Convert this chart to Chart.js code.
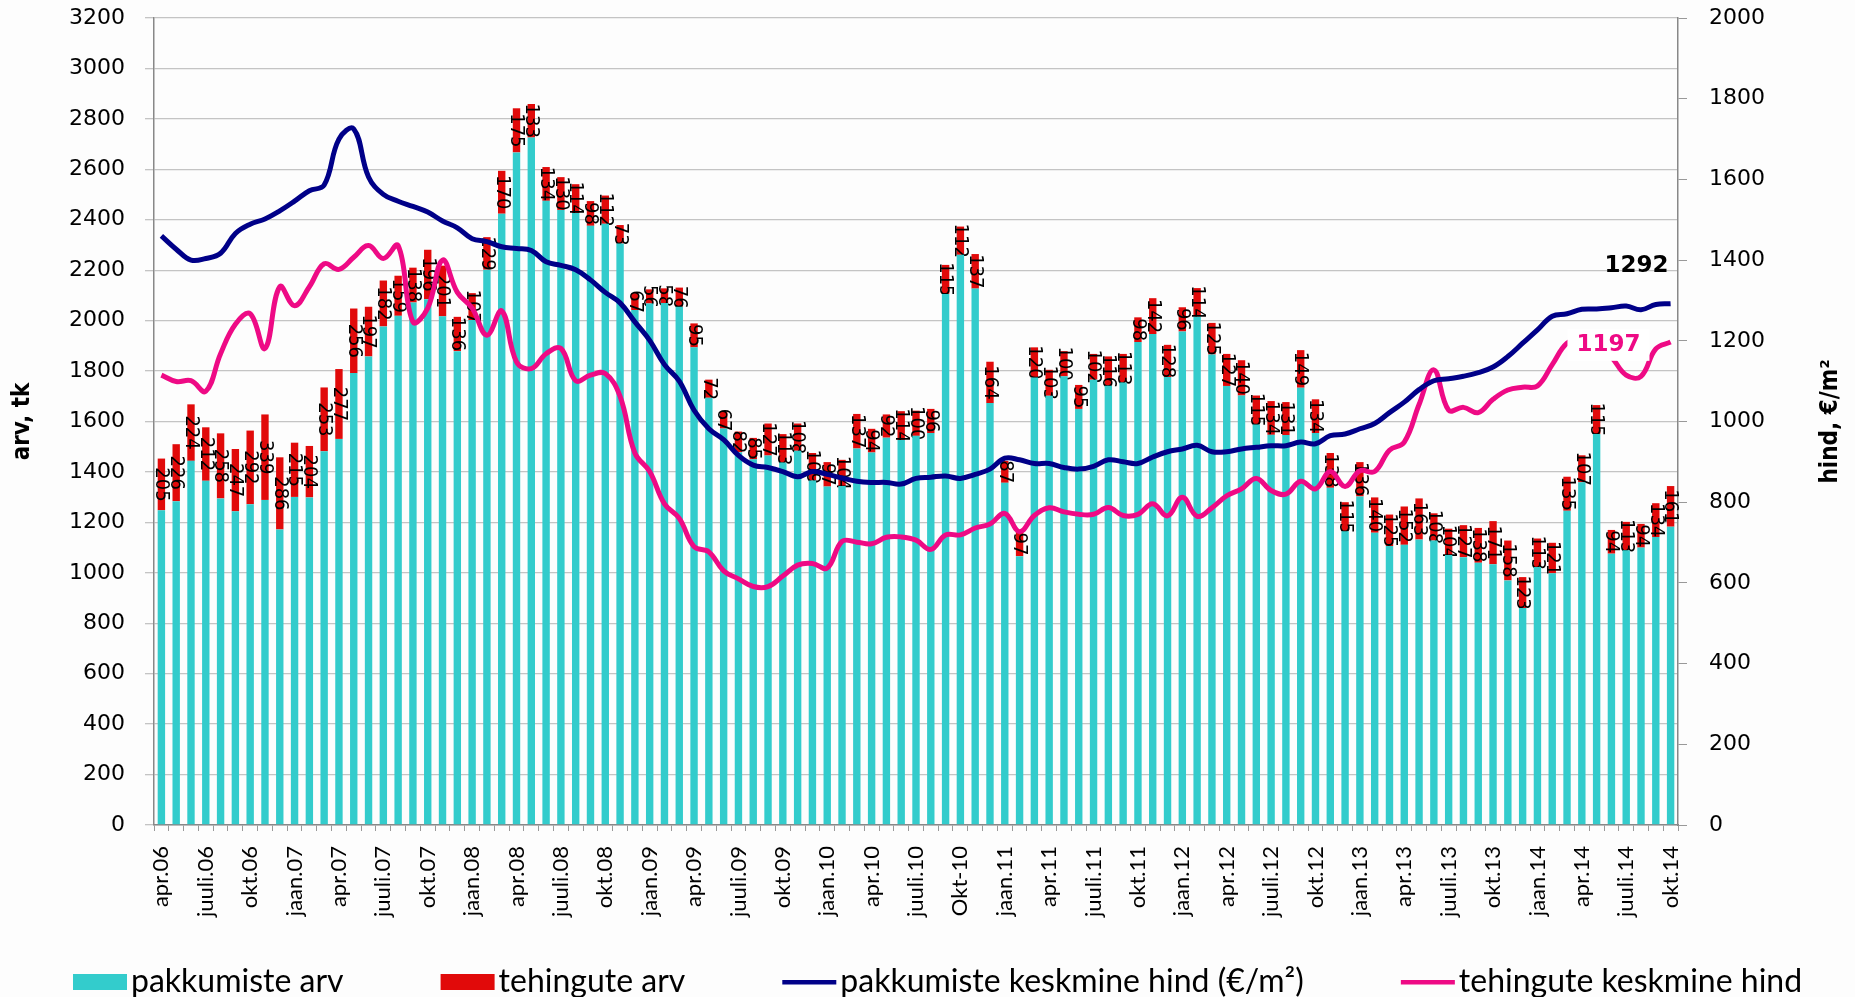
<!DOCTYPE html>
<html>
<head>
<meta charset="utf-8">
<script src="https://cdn.jsdelivr.net/npm/chart.js@4.4.1/dist/chart.umd.min.js"></script>
<style>
  html, body { margin: 0; padding: 0; background: #fff; }
  #wrap { width: 1855px; height: 997px; }
</style>
</head>
<body>
<div id="wrap"><canvas id="myChart" width="1855" height="997"></canvas></div>
<script>
/*---------------------------- data ------------------------------------*/

var months = [
  'apr.06','mai.06','juuni.06','juuli.06','aug.06','sept.06','okt.06','nov.06','dets.06',
  'jaan.07','veebr.07','märts.07','apr.07','mai.07','juuni.07','juuli.07','aug.07','sept.07','okt.07','nov.07','dets.07',
  'jaan.08','veebr.08','märts.08','apr.08','mai.08','juuni.08','juuli.08','aug.08','sept.08','okt.08','nov.08','dets.08',
  'jaan.09','veebr.09','märts.09','apr.09','mai.09','juuni.09','juuli.09','aug.09','sept.09','okt.09','nov.09','dets.09',
  'jaan.10','veebr.10','märts.10','apr.10','mai.10','juuni.10','juuli.10','aug.10','sept.10','Okt-10','nov.10','dets.10',
  'jaan.11','veebr.11','märts.11','apr.11','mai.11','juuni.11','juuli.11','aug.11','sept.11','okt.11','nov.11','dets.11',
  'jaan.12','veebr.12','märts.12','apr.12','mai.12','juuni.12','juuli.12','aug.12','sept.12','okt.12','nov.12','dets.12',
  'jaan.13','veebr.13','märts.13','apr.13','mai.13','juuni.13','juuli.13','aug.13','sept.13','okt.13','nov.13','dets.13',
  'jaan.14','veebr.14','märts.14','apr.14','mai.14','juuni.14','juuli.14','aug.14','sept.14','okt.14'
];

// pakkumiste arv (cyan part of the bar)
var offerCount = [
  1248,1284,1444,1365,1295,1244,1272,1289,1172,1301,1299,1482,1531,1792,1858,1977,2019,2072,2085,2017,
  1879,2002,2202,2424,2667,2726,2475,2439,2427,2376,2384,2306,2042,2068,2070,2055,1894,1694,1572,1478,
  1450,1465,1437,1484,1366,1342,1344,1493,1477,1536,1527,1543,1554,2106,2261,2127,1673,1357,1066,1774,
  1702,1779,1650,1766,1742,1755,1915,1947,1776,1957,2015,1866,1741,1703,1588,1547,1546,1734,1554,1337,
  1165,1303,1159,1106,1111,1132,1128,1071,1062,1040,1034,970,860,1023,998,1246,1359,1550,1076,1089,
  1100,1142,1183
];

// tehingute arv (red part of the bar, also the labels)
var dealCount = [
  205,226,224,212,258,247,292,339,286,215,204,253,277,256,197,182,159,138,196,201,
  136,107,129,170,175,133,134,130,114,98,112,73,67,56,58,76,95,72,67,82,
  85,127,113,108,109,97,104,137,94,92,114,100,96,115,112,137,164,87,97,120,
  103,100,95,102,116,113,98,142,128,96,114,125,127,140,115,134,131,149,134,138,
  115,136,140,125,152,163,108,104,127,138,171,158,123,113,121,135,107,115,94,113,
  94,134,161
];

// pakkumiste keskmine hind (€/m²)
var offerPrice = [
  1460,1427,1400,1404,1417,1466,1489,1502,1522,1546,1572,1586,1700,1725,1606,1563,1546,1533,1519,1497,
  1480,1453,1446,1433,1429,1424,1396,1387,1376,1351,1320,1294,1247,1201,1141,1100,1028,982,955,916,
  892,886,876,863,876,869,860,852,849,849,845,859,862,865,859,869,882,909,905,896,
  896,886,882,889,905,900,896,912,925,932,941,925,925,932,936,940,940,949,945,965,
  969,982,995,1022,1048,1079,1101,1106,1112,1121,1135,1161,1194,1227,1261,1267,1278,1279,1282,1286,
  1277,1290,1292
];

// tehingute keskmine hind
var dealPrice = [
  1115,1099,1101,1075,1168,1241,1267,1181,1334,1287,1334,1391,1377,1407,1436,1404,1436,1247,1281,1400,
  1320,1281,1214,1274,1148,1131,1168,1181,1101,1115,1119,1062,922,876,796,760,690,677,630,610,
  591,591,617,644,648,637,703,701,697,713,714,706,683,719,719,736,746,772,727,767,
  786,776,770,770,787,767,770,796,766,812,765,786,816,833,859,829,820,852,833,876,
  839,878,876,929,949,1042,1128,1028,1035,1022,1055,1078,1085,1088,1141,1194,1205,1195,1160,1115,
  1112,1180,1197
];

var seriesNames = ['pakkumiste arv', 'tehingute arv', 'pakkumiste keskmine hind (€/m²)', 'tehingute keskmine hind'];
var seriesColors = ['#33CCCC', '#E10A0A', '#000088', '#EE0A85'];

var leftTicks = [0, 3200, 200];
var rightTicks = [0, 2000, 200];

/*---------------------------- plugins ------------------------------------*/

var condensed = '"DejaVu Sans Condensed", "Liberation Sans Narrow", "DejaVu Sans", sans-serif';

var background = {
  id: 'background',
  beforeDraw: function (chart) {
    var ctx = chart.ctx;
    ctx.save();
    ctx.fillStyle = '#fdfdfd';
    ctx.fillRect(0, 0, chart.width, chart.height);
    ctx.restore();
  }
};

// rotated numbers on the red segments, drawn before the lines
var barLabels = {
  id: 'barLabels',
  afterDatasetDraw: function (chart, args) {
    if (args.index !== 1) return;
    var ctx = chart.ctx;
    var meta = chart.getDatasetMeta(1);
    ctx.save();
    ctx.font = '20px ' + condensed;
    ctx.fillStyle = '#000';
    ctx.textAlign = 'center';
    ctx.textBaseline = 'middle';
    meta.data.forEach(function (bar, i) {
      var y = (bar.y + bar.base) / 2;
      ctx.save();
      ctx.translate(bar.x, y);
      ctx.rotate(Math.PI / 2);
      ctx.fillText(String(dealCount[i]), 0, 0);
      ctx.restore();
    });
    ctx.restore();
  }
};

// end values near the right side
var endLabels = {
  id: 'endLabels',
  afterDatasetsDraw: function (chart) {
    var ctx = chart.ctx;
    var x = chart.scales.x, y1 = chart.scales.y1;
    var last = months.length - 1;
    ctx.save();
    ctx.font = 'bold 23px "DejaVu Sans", sans-serif';
    ctx.textAlign = 'center';
    ctx.textBaseline = 'middle';

    var px = x.getPixelForValue(last - 2.3);
    var py = y1.getPixelForValue(1385);
    ctx.fillStyle = '#000';
    ctx.fillText(String(offerPrice[last]), px, py);

    px = x.getPixelForValue(last - 4.2);
    py = y1.getPixelForValue(1190);
    var w = ctx.measureText(String(dealPrice[last])).width;
    ctx.fillStyle = '#fff';
    ctx.fillRect(px - w / 2 - 9, py - 16, w + 18, 32);
    ctx.fillStyle = seriesColors[3];
    ctx.fillText(String(dealPrice[last]), px, py);
    ctx.restore();
  }
};

// right axis title, reading bottom to top
var rightTitle = {
  id: 'rightTitle',
  afterDraw: function (chart) {
    var ctx = chart.ctx;
    var a = chart.chartArea;
    ctx.save();
    ctx.translate(1831, (a.top + a.bottom) / 2);
    ctx.rotate(-Math.PI / 2);
    ctx.font = 'bold 24px ' + condensed;
    ctx.fillStyle = '#000';
    ctx.textAlign = 'center';
    ctx.textBaseline = 'middle';
    ctx.fillText('hind, €/m²', 0, 0);
    ctx.restore();
  }
};

// legend along the bottom edge
var bottomLegend = {
  id: 'bottomLegend',
  afterDraw: function (chart) {
    var ctx = chart.ctx;
    var x = 73, y = 982, gap = 97;
    ctx.save();
    ctx.font = '32px Lato, "Open Sans", sans-serif';
    ctx.textBaseline = 'middle';
    ctx.textAlign = 'left';
    seriesNames.forEach(function (name, i) {
      ctx.fillStyle = seriesColors[i];
      if (i < 2) {
        ctx.fillRect(x, y - 8, 54, 16);
      } else {
        ctx.fillRect(x, y - 2, 54, 4.5);
      }
      ctx.fillStyle = '#000';
      ctx.fillText(name, x + 58, y);
      x += 58 + ctx.measureText(name).width + gap;
    });
    ctx.restore();
  }
};

function plain(v) { return String(v); }

/*---------------------------- chart ------------------------------------*/

new Chart("myChart", {
  type: "bar",
  data: {
    labels: months,
    datasets: [{
      label: seriesNames[0],
      data: offerCount,
      backgroundColor: seriesColors[0],
      stack: 's',
      yAxisID: 'y',
      order: 1,
      barPercentage: 0.5,
      categoryPercentage: 1
    }, {
      label: seriesNames[1],
      data: dealCount,
      backgroundColor: seriesColors[1],
      stack: 's',
      yAxisID: 'y',
      order: 1,
      barPercentage: 0.5,
      categoryPercentage: 1
    }, {
      type: 'line',
      label: seriesNames[2],
      data: offerPrice,
      borderColor: seriesColors[2],
      borderWidth: 5,
      pointRadius: 0,
      tension: 0.4,
      fill: false,
      yAxisID: 'y1',
      order: 0
    }, {
      type: 'line',
      label: seriesNames[3],
      data: dealPrice,
      borderColor: seriesColors[3],
      borderWidth: 5,
      pointRadius: 0,
      tension: 0.4,
      fill: false,
      yAxisID: 'y1',
      order: 0
    }]
  },
  options: {
    responsive: false,
    animation: false,
    layout: { padding: { left: 8, right: 10, top: 18, bottom: 0 } },
    plugins: {
      legend: { display: false },
      tooltip: { enabled: false }
    },
    scales: {
      x: {
        stacked: true,
        afterFit: function (s) { s.height = 172; },
        grid: { display: true, drawOnChartArea: false, offset: true, tickLength: 6, color: '#999' },
        border: { color: '#888', width: 1.5 },
        ticks: {
          autoSkip: false,
          minRotation: 90,
          maxRotation: 90,
          padding: 15,
          color: '#000',
          font: { family: 'Lato, "Open Sans", sans-serif', size: 22 },
          callback: function (v, i) { return i % 3 === 0 ? months[i] : ''; }
        }
      },
      y: {
        stacked: true,
        position: 'left',
        min: leftTicks[0],
        max: leftTicks[1],
        afterFit: function (s) { s.width = 146; s.paddingTop = 10; },
        grid: { color: '#c4c4c4', lineWidth: 1.3, tickLength: 9 },
        border: { color: '#888', width: 1.5 },
        ticks: {
          stepSize: leftTicks[2],
          padding: 20,
          color: '#000',
          callback: plain,
          font: { family: '"DejaVu Sans", sans-serif', size: 22 }
        },
        title: {
          display: true,
          text: 'arv, tk',
          color: '#000',
          padding: 0,
          font: { family: condensed, size: 24, weight: 'bold' }
        }
      },
      y1: {
        position: 'right',
        min: rightTicks[0],
        max: rightTicks[1],
        afterFit: function (s) { s.width = 167; s.paddingTop = 10; },
        grid: { drawOnChartArea: false, color: '#999', tickLength: 9 },
        border: { color: '#888', width: 1.5 },
        ticks: {
          stepSize: rightTicks[2],
          padding: 22,
          color: '#000',
          callback: plain,
          font: { family: '"DejaVu Sans", sans-serif', size: 22 }
        }
      }
    }
  },
  plugins: [background, barLabels, endLabels, rightTitle, bottomLegend]
});
</script>
</body>
</html>
